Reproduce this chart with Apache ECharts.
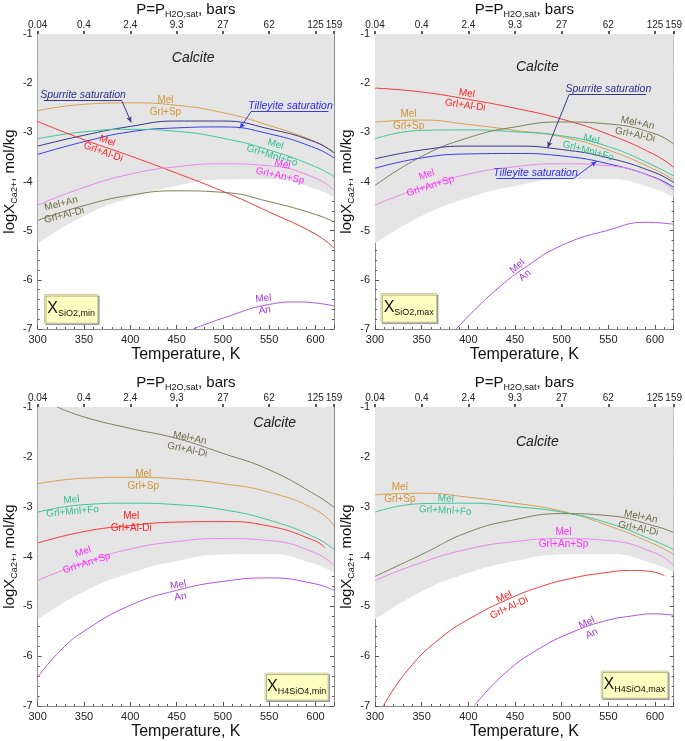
<!DOCTYPE html>
<html>
<head>
<meta charset="utf-8">
<script src="https://cdn.jsdelivr.net/npm/echarts@6/dist/echarts.min.js"></script>
<style>
  html, body { margin: 0; padding: 0; background: #fff; }
  #main { width: 685px; height: 741px; }
</style>
</head>
<body>
<div id="main"></div>
<script>
var myChart = echarts.init(document.getElementById('main'));

var FONT = 'Liberation Sans, Arial, Helvetica, sans-serif';

// temperature grid, K
var temps = [300, 350, 400, 450, 500, 550, 600, 620];

// top axis: saturated water pressure, bars
var pressTemps = [300, 350, 400, 450, 500, 550, 600, 620];
var pressLabels = ['0.04', '0.4', '2.4', '9.3', '27', '62', '125', '159'];

// calcite saturation boundary (same in every panel)
var calcite = [-5.26, -4.70, -4.33, -4.09, -3.96, -3.95, -4.15, -4.32];
// Mel / Grl+An+Sp (does not depend on silica)
var anSp = [-4.48, -4.12, -3.85, -3.70, -3.64, -3.68, -3.93, -4.18];

// panel a: X SiO2,min
var spA = [-2.56, -2.43, -2.40, -2.45, -2.60, -2.86, -3.19, -3.40];
var spurA = [-3.28, -3.06, -2.88, -2.77, -2.77, -2.93, -3.20, -3.42];
var tilA = [-3.45, -3.19, -2.99, -2.91, -2.89, -3.03, -3.32, -3.52];
var foA = [-3.13, -2.99, -2.94, -2.98, -3.12, -3.36, -3.70, -3.90];
var diA = [-2.78, -3.15, -3.48, -3.83, -4.20, -4.62, -5.07, -5.35];
var anDiA = [-4.79, -4.49, -4.28, -4.19, -4.22, -4.41, -4.67, -4.82];
var anTempsA = [468, 500, 550, 580, 600, 620];
var anA = [-7.00, -6.78, -6.50, -6.45, -6.47, -6.53];

// panel b: X SiO2,max
var diB = [-2.10, -2.18, -2.33, -2.51, -2.73, -3.04, -3.46, -3.71];
var spB = [-2.79, -2.75, -2.84, -2.96, -3.09, -3.36, -3.76, -3.97];
var foB = [-3.13, -2.96, -2.95, -2.99, -3.07, -3.29, -3.69, -3.89];
var anDiB = [-4.08, -3.49, -3.11, -2.89, -2.79, -2.83, -3.03, -3.24];
var spurB = [-3.54, -3.36, -3.28, -3.28, -3.35, -3.52, -3.82, -4.02];
var tilB = [-3.73, -3.52, -3.44, -3.43, -3.48, -3.64, -3.92, -4.12];
var anTempsB = [387, 410, 435, 460, 500, 550, 590, 620];
var anB = [-7.00, -6.55, -6.12, -5.76, -5.30, -4.99, -4.83, -4.87];

// panel c: X H4SiO4,min
var anDiTempsC = [321, 350, 400, 450, 500, 550, 600, 620];
var anDiC = [-1.00, -1.20, -1.43, -1.63, -1.93, -2.26, -2.76, -3.01];
var spC = [-2.54, -2.43, -2.41, -2.44, -2.54, -2.71, -3.06, -3.38];
var foC = [-3.11, -2.96, -2.93, -2.96, -3.06, -3.27, -3.62, -3.86];
var diTempsC = [300, 350, 400, 450, 500, 550, 600, 610];
var diC = [-3.73, -3.50, -3.38, -3.31, -3.30, -3.39, -3.69, -3.82];
var anTempsC = [300, 325, 350, 400, 450, 500, 550, 600, 620];
var anC = [-6.42, -5.88, -5.50, -4.98, -4.68, -4.50, -4.43, -4.55, -4.68];

// panel d: X H4SiO4,max
var spD = [-2.76, -2.73, -2.81, -2.93, -3.09, -3.38, -3.76, -3.96];
var foD = [-3.11, -2.94, -2.93, -3.00, -3.11, -3.33, -3.69, -3.86];
var anDiD = [-4.40, -3.96, -3.51, -3.26, -3.14, -3.18, -3.39, -3.52];
var diTempsD = [309, 335, 370, 405, 440, 475, 510, 545, 575, 595, 610];
var diD = [-7.00, -6.28, -5.64, -5.21, -4.88, -4.62, -4.44, -4.33, -4.28, -4.30, -4.38];
var anTempsD = [406, 440, 475, 510, 545, 580, 600, 620];
var anD = [-7.00, -6.33, -5.86, -5.53, -5.30, -5.18, -5.15, -5.18];

// line colours / label colours
var COL = {
  sp: ['#d6a24e', '#cf9535'],
  fo: ['#3cc79b', '#2fbf8c'],
  di: ['#f23b3b', '#ff2020'],
  anDi: ['#7f7f5c', '#6c6c48'],
  spur: ['#37378c', '#2e2e88'],
  til: ['#3a3af2', '#2a2aee'],
  anSp: ['#e88ae8', '#ff2cff'],
  an: ['#b352e0', '#a233d6']
};

var boxes = [[33, 28], [375, 28], [33, 407], [375, 407]];
var grids = [], xAxes = [], yAxes = [], series = [];

function addPanel(i) {
  var b = boxes[i];
  grids.push({ left: b[0], top: b[1], width: 301, height: 301 });
  var lineCol = '#8c8c8c', tickCol = '#555';
  xAxes.push({
    type: 'value', gridIndex: i, min: 300, max: 620, interval: 50, position: 'bottom',
    name: 'Temperature, K', nameLocation: 'middle', nameGap: 18,
    nameTextStyle: { fontSize: 16, color: '#111', fontFamily: FONT },
    axisLine: { onZero: false, lineStyle: { color: lineCol } },
    axisTick: { inside: true, length: 4, lineStyle: { color: tickCol } },
    minorTick: { show: true, splitNumber: 5, length: 2, lineStyle: { color: tickCol } },
    axisLabel: { fontSize: 11, color: '#222', margin: 5, showMaxLabel: false, fontFamily: FONT },
    splitLine: { show: false }
  });
  xAxes.push({
    type: 'value', gridIndex: i, min: 300, max: 620, position: 'top',
    name: 'P=P{s|H2O,sat}, bars', nameLocation: 'middle', nameGap: 15,
    nameTextStyle: {
      fontSize: 15, color: '#111', fontFamily: FONT, lineHeight: 18,
      rich: { s: { fontSize: 9, fontFamily: FONT, color: '#111', verticalAlign: 'bottom', lineHeight: 10 } }
    },
    axisLine: { onZero: false, lineStyle: { color: lineCol } },
    axisTick: { customValues: pressTemps, inside: false, length: 3, lineStyle: { color: '#222', width: 1.5 } },
    axisLabel: {
      customValues: pressTemps, fontSize: 10, color: '#222', margin: 4, fontFamily: FONT,
      formatter: function (v) { return pressLabels[pressTemps.indexOf(v)]; }
    },
    splitLine: { show: false }
  });
  yAxes.push({
    type: 'value', gridIndex: i, min: -7, max: -1, interval: 1, position: 'left',
    name: 'logX{s|Ca2+}, mol/kg', nameLocation: 'middle', nameGap: 18, nameRotate: 90,
    nameTextStyle: {
      fontSize: 15, color: '#111', fontFamily: FONT, lineHeight: 18,
      rich: { s: { fontSize: 9, fontFamily: FONT, color: '#111', verticalAlign: 'bottom', lineHeight: 10 } }
    },
    axisLine: { show: true, onZero: false, lineStyle: { color: lineCol } },
    axisTick: { show: true, inside: true, length: 4, lineStyle: { color: tickCol } },
    minorTick: { show: true, splitNumber: 5, length: 2, lineStyle: { color: tickCol } },
    axisLabel: { fontSize: 11, color: '#222', margin: 5, fontFamily: FONT },
    splitLine: { show: false }
  });
  yAxes.push({
    type: 'value', gridIndex: i, min: -7, max: -1, interval: 1, position: 'right',
    axisLine: { show: true, onZero: false, lineStyle: { color: lineCol } },
    axisTick: { show: true, inside: true, length: 4, lineStyle: { color: tickCol } },
    minorTick: { show: true, splitNumber: 5, length: 2, lineStyle: { color: tickCol } },
    axisLabel: { show: false },
    splitLine: { show: false }
  });
}

function pairs(ts, vs) {
  return ts.map(function (t, k) { return [t, vs[k]]; });
}

function tags(list, color, extra) {
  return {
    symbol: 'circle', symbolSize: 1, silent: true, animation: false,
    itemStyle: { color: 'rgba(0,0,0,0)' },
    label: Object.assign({
      show: true, color: color, fontSize: 10, lineHeight: 12, fontFamily: FONT, align: 'center'
    }, extra || {}),
    data: list.map(function (l) {
      return { coord: [l[0], l[1]], value: 0, label: { formatter: l[2], rotate: l[3] || 0 } };
    })
  };
}

function curve(gi, ts, vs, key, labels) {
  var s = {
    type: 'line', xAxisIndex: 2 * gi, yAxisIndex: 2 * gi,
    data: pairs(ts, vs), smooth: 0.5, symbol: 'none', silent: true,
    lineStyle: { color: COL[key][0], width: 1 }, z: 3, animation: false
  };
  if (labels) s.markPoint = tags(labels, COL[key][1]);
  return s;
}

// saturation line with an underlined italic note and an arrow to the curve
function satCurve(gi, vs, key, note) {
  var s = curve(gi, temps, vs, key);
  s.markPoint = tags([[note.at[0], note.at[1], note.text, 0]], COL[key][1], { fontStyle: 'italic', fontSize: 10.5 });
  s.markLine = {
    silent: true, animation: false, symbol: ['none', 'none'],
    label: { show: false },
    lineStyle: { color: COL[key][0], width: 1, type: 'solid' },
    data: [
      [{ coord: note.under[0] }, { coord: note.under[1] }],
      [{ coord: note.arrow[0] }, { coord: note.arrow[1], symbol: 'arrow', symbolSize: [4, 6] }]
    ]
  };
  return s;
}

function calciteArea(gi, label, box, boxText) {
  return {
    type: 'line', xAxisIndex: 2 * gi, yAxisIndex: 2 * gi,
    data: pairs(temps, calcite), smooth: 0.5, symbol: 'none', silent: true,
    lineStyle: { width: 0 }, areaStyle: { color: '#e5e5e5', origin: 'end', opacity: 1 },
    z: 1, animation: false,
    markPoint: tags([[label[0], label[1], 'Calcite', 0]], '#222', { fontStyle: 'italic', fontSize: 14 }),
    markArea: {
      silent: true, animation: false,
      itemStyle: {
        color: '#ffffc2', borderColor: '#c9c9a8', borderWidth: 1,
        shadowColor: 'rgba(0,0,0,0.3)', shadowOffsetX: 1.5, shadowOffsetY: 1.5, shadowBlur: 0
      },
      label: {
        show: true, position: 'inside', formatter: 'X{s|' + boxText + '}',
        fontSize: 16, color: '#111', fontFamily: FONT, lineHeight: 18,
        rich: { s: { fontSize: 9, color: '#111', fontFamily: FONT, verticalAlign: 'bottom', lineHeight: 10 } }
      },
      data: [[{ coord: box[0] }, { coord: box[1] }]]
    }
  };
}

for (var i = 0; i < 4; i++) addPanel(i);

// panel a
series.push(
  calciteArea(0, [468, -1.5], [[307.4, -6.30], [364.8, -6.88]], 'SiO2,min'),
  curve(0, temps, spA, 'sp', [[438, -2.47, 'Mel\nGrl+Sp']]),
  satCurve(0, spurA, 'spur', {
    text: 'Spurrite saturation', at: [349, -2.24],
    under: [[306.7, -2.35], [390.7, -2.35]], arrow: [[390.7, -2.35], [401, -2.80]]
  }),
  satCurve(0, tilA, 'til', {
    text: 'Tilleyite saturation', at: [573, -2.47],
    under: [[530.7, -2.57], [614, -2.57]], arrow: [[530.7, -2.57], [518.3, -2.92]]
  }),
  curve(0, temps, foA, 'fo', [[555, -3.36, 'Mel\nGrl+Mnl+Fo', -17]]),
  curve(0, temps, diA, 'di', [[373, -3.29, 'Mel\nGrl+Al-Di', -20]]),
  curve(0, temps, anSp, 'anSp', [[563, -3.77, 'Mel\nGrl+An+Sp', -12]]),
  curve(0, temps, anDiA, 'anDi', [[327, -4.57, 'Mel+An\nGrl+Al-Di', 14]]),
  curve(0, anTempsA, anA, 'an', [[544.5, -6.5, 'Mel\nAn', 6]])
);

// panel b
series.push(
  calciteArea(1, [474, -1.68], [[306.4, -6.28], [365.9, -6.86]], 'SiO2,max'),
  curve(1, temps, diB, 'di', [[397.5, -2.33, 'Mel\nGrl+Al-Di', -8]]),
  curve(1, temps, spB, 'sp', [[336, -2.75, 'Mel\nGrl+Sp']]),
  curve(1, temps, foB, 'fo', [[530, -3.26, 'Mel\nGrl+Mnl+Fo', -15]]),
  curve(1, temps, anDiB, 'anDi', [[580, -2.93, 'Mel+An\nGrl+Al-Di', -12]]),
  satCurve(1, spurB, 'spur', {
    text: 'Spurrite saturation', at: [550, -2.12],
    under: [[508, -2.23], [590.6, -2.23]], arrow: [[508, -2.23], [485, -3.31]]
  }),
  satCurve(1, tilB, 'til', {
    text: 'Tilleyite saturation', at: [472, -3.82],
    under: [[430, -3.94], [512.6, -3.94]], arrow: [[512.6, -3.94], [537.4, -3.59]]
  }),
  curve(1, temps, anSp, 'anSp', [[357.4, -3.98, 'Mel\nGrl+An+Sp', 18]]),
  curve(1, anTempsB, anB, 'an', [[456.6, -5.82, 'Mel\nAn', 40]])
);

// panel c
series.push(
  calciteArea(2, [556, -1.33], [[545.6, -6.34], [613.6, -6.88]], 'H4SiO4,min'),
  curve(2, anDiTempsC, anDiC, 'anDi', [[463, -1.74, 'Mel+An\nGrl+Al-Di', -12]]),
  curve(2, temps, spC, 'sp', [[414, -2.46, 'Mel\nGrl+Sp']]),
  curve(2, temps, foC, 'fo', [[337, -2.98, 'Mel\nGrl+Mnl+Fo', 5]]),
  curve(2, diTempsC, diC, 'di', [[401, -3.31, 'Mel\nGrl+Al-Di']]),
  curve(2, temps, anSp, 'anSp', [[351, -4.02, 'Mel\nGrl+An+Sp', 18]]),
  curve(2, anTempsC, anC, 'an', [[453, -4.69, 'Mel\nAn', 10]])
);

// panel d
series.push(
  calciteArea(3, [474, -1.7], [[542.4, -6.30], [613.6, -6.84]], 'H4SiO4,max'),
  curve(3, temps, spD, 'sp', [[326.6, -2.73, 'Mel\nGrl+Sp']]),
  curve(3, temps, foD, 'fo', [[375.5, -2.96, 'Mel\nGrl+Mnl+Fo', -3]]),
  curve(3, temps, anDiD, 'anDi', [[583.5, -3.32, 'Mel+An\nGrl+Al-Di', -12]]),
  curve(3, temps, anSp, 'anSp', [[502, -3.64, 'Mel\nGrl+An+Sp']]),
  curve(3, diTempsD, diD, 'di', [[441, -4.92, 'Mel\nGrl+Al-Di', 25]]),
  curve(3, anTempsD, anD, 'an', [[529.6, -5.44, 'Mel\nAn', 25]])
);

var option = {
  animation: false,
  backgroundColor: '#fff',
  textStyle: { fontFamily: FONT },
  grid: grids,
  xAxis: xAxes,
  yAxis: yAxes,
  series: series
};

myChart.setOption(option);
</script>
</body>
</html>
